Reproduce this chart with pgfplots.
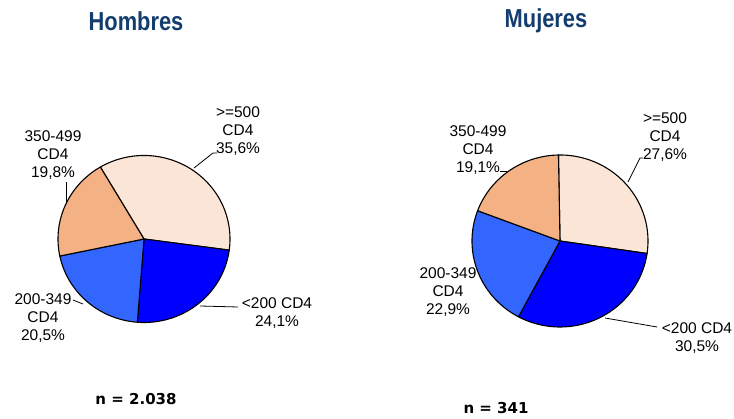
\documentclass[border=0pt]{standalone}
\usepackage{pgfplots}
\usepackage{pgfplotstable}
\usepackage{graphicx}
\usepackage{fontspec}
\setmainfont{Liberation Sans}
\newfontfamily\nfont{DejaVu Sans}
\pgfplotsset{compat=1.18}
\definecolor{cA}{HTML}{FBE5D6}
\definecolor{cB}{HTML}{0000FF}
\definecolor{cC}{HTML}{3366FF}
\definecolor{cD}{HTML}{F4B183}
\definecolor{titleblue}{HTML}{133D6E}

% order: >=500, <200, 200-349, 350-499 (clockwise)
\pgfplotstableread{
cat value
ge500 35.6
lt200 24.1
m200 20.5
m350 19.8
}\hombres
\pgfplotstableread{
cat value
ge500 27.6
lt200 30.5
m200 22.9
m350 19.1
}\mujeres

\newcommand{\getangles}[3]{% table, start angle, prefix
  \pgfplotstablegetelem{0}{value}\of#1\pgfmathsetmacro\tmpA{\pgfplotsretval}%
  \pgfplotstablegetelem{1}{value}\of#1\pgfmathsetmacro\tmpB{\pgfplotsretval}%
  \pgfplotstablegetelem{2}{value}\of#1\pgfmathsetmacro\tmpC{\pgfplotsretval}%
  \pgfmathsetmacro\tmpaa{#2}%
  \pgfmathsetmacro\tmpab{\tmpaa-3.6*\tmpA}%
  \pgfmathsetmacro\tmpac{\tmpab-3.6*\tmpB}%
  \pgfmathsetmacro\tmpad{\tmpac-3.6*\tmpC}%
  \pgfmathsetmacro\tmpae{\tmpaa-360}%
  \expandafter\let\csname #3a\endcsname\tmpaa
  \expandafter\let\csname #3b\endcsname\tmpab
  \expandafter\let\csname #3c\endcsname\tmpac
  \expandafter\let\csname #3d\endcsname\tmpad
  \expandafter\let\csname #3e\endcsname\tmpae
}
\getangles{\hombres}{120.5}{H}
\getangles{\mujeres}{91}{M}

% slice: color, from, to, cx, cy, rx, ry
\newcommand{\slice}[7]{%
  \addplot[fill=#1, draw=black, line width=1.1pt, line join=round, domain=#3:#2, samples=80, variable=\t]
    ({#4+#6*cos(t)},{#5+#7*sin(t)}) -- (axis cs:#4,#5) -- cycle;
}

\begin{document}
\begin{tikzpicture}
\begin{axis}[
  at={(0,0)}, anchor=south west,
  width=734pt, height=419pt, scale only axis,
  xmin=0, xmax=734, ymin=0, ymax=419,
  hide axis, clip=false,
]
% Hombres
\slice{cA}{\Ha}{\Hb}{144}{180}{86}{83.5}
\slice{cB}{\Hb}{\Hc}{144}{180}{86}{83.5}
\slice{cC}{\Hc}{\Hd}{144}{180}{86}{83.5}
\slice{cD}{\Hd}{\He}{144}{180}{86}{83.5}
% Mujeres
\slice{cA}{\Ma}{\Mb}{560}{178}{88}{86}
\slice{cB}{\Mb}{\Mc}{560}{178}{88}{86}
\slice{cC}{\Mc}{\Md}{560}{178}{88}{86}
\slice{cD}{\Md}{\Me}{560}{178}{88}{86}

\begin{scope}[every node/.style={font=\fontsize{15.5}{18}\selectfont, align=center, inner sep=0pt}]
% Hombres labels
\node at (axis cs:238,288) {>=500\\CD4\\35,6\%};
\node at (axis cs:53,264) {350-499\\CD4\\19,8\%};
\node at (axis cs:43,101) {200-349\\CD4\\20,5\%};
\node at (axis cs:277,106) {<200 CD4\\24,1\%};
% Mujeres labels
\node at (axis cs:665,282) {>=500\\CD4\\27,6\%};
\node at (axis cs:478,269) {350-499\\CD4\\19,1\%};
\node at (axis cs:448,127) {200-349\\CD4\\22,9\%};
\node at (axis cs:697,81) {<200 CD4\\30,5\%};
\end{scope}
% leader lines
\draw[black, line width=0.8pt] (axis cs:217,266) -- (axis cs:213,266) -- (axis cs:194,251);
\draw[black, line width=0.8pt] (axis cs:66,237) -- (axis cs:66,216);
\draw[black, line width=0.8pt] (axis cs:73,119) -- (axis cs:83,115);
\draw[black, line width=0.8pt] (axis cs:200,113) -- (axis cs:238,112);
\draw[black, line width=0.8pt] (axis cs:643,261) -- (axis cs:640,261) -- (axis cs:628,237);
\draw[black, line width=0.8pt] (axis cs:500,248) -- (axis cs:507,248);
\draw[black, line width=0.8pt] (axis cs:605,101) -- (axis cs:657,92);

% titles
\node[text=titleblue, font=\fontsize{26}{30}\selectfont\bfseries] at (axis cs:136,398) {\scalebox{0.84}[1]{Hombres}};
\node[text=titleblue, font=\fontsize{26}{30}\selectfont\bfseries] at (axis cs:546,398) {\scalebox{0.84}[1]{Mujeres}};
% n
\node[font=\nfont\fontsize{15}{18}\selectfont\bfseries] at (axis cs:136,20) {n = 2.038};
\node[font=\nfont\fontsize{15}{18}\selectfont\bfseries] at (axis cs:496,11) {n = 341};
\end{axis}
\pgfresetboundingbox
\path[use as bounding box] (0,0) rectangle (734pt,419pt);
\end{tikzpicture}
\end{document}
